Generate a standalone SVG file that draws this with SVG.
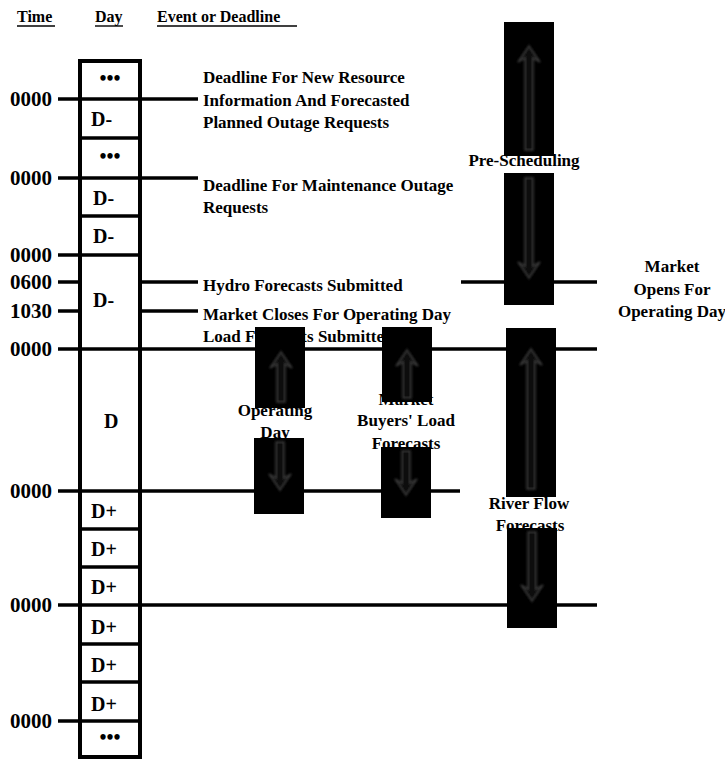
<svg xmlns="http://www.w3.org/2000/svg" width="725" height="760" viewBox="0 0 725 760">
<style>
  text { font-family: "Liberation Serif", "Times New Roman", serif; font-weight: bold; fill: #000; }
  .hdr { font-size: 16px; }
  .time { font-size: 21px; }
  .day { font-size: 20px; }
  .ev { font-size: 17px; }
  .mid { text-anchor: middle; }
  .ln { stroke: #000; stroke-width: 3.5; fill: none; }
  .ul { stroke: #000; stroke-width: 1.4; }
  .box { fill: none; stroke: #000; stroke-width: 4; }
  .blk { fill: #000; }
  .arr { fill: #0e0e0e; stroke: #383838; stroke-width: 1.6; filter: url(#glow); }
</style>
<defs>
  <filter id="glow" x="-50%" y="-20%" width="200%" height="140%">
    <feGaussianBlur stdDeviation="0.9"/>
  </filter>
</defs>
<rect width="725" height="760" fill="#fff"/>

<g id="headers">
  <text class="hdr" x="17" y="22">Time</text>
  <line class="ul" x1="17" y1="26" x2="55" y2="26"/>
  <text class="hdr" x="95" y="22">Day</text>
  <line class="ul" x1="95" y1="26" x2="123" y2="26"/>
  <text class="hdr" x="157" y="22">Event or Deadline</text>
  <line class="ul" x1="157" y1="26" x2="297" y2="26"/>
</g>

<g id="connectors">
  <line class="ln" x1="58" y1="99" x2="198" y2="99"/>
  <line class="ln" x1="80" y1="138" x2="140" y2="138"/>
  <line class="ln" x1="58" y1="178" x2="198" y2="178"/>
  <line class="ln" x1="80" y1="216" x2="140" y2="216"/>
  <line class="ln" x1="58" y1="255" x2="140" y2="255"/>
  <line class="ln" x1="58" y1="282" x2="80" y2="282"/>
  <line class="ln" x1="140" y1="282" x2="198" y2="282"/>
  <line class="ln" x1="461" y1="282" x2="597" y2="282"/>
  <line class="ln" x1="58" y1="311" x2="80" y2="311"/>
  <line class="ln" x1="140" y1="311" x2="198" y2="311"/>
  <line class="ln" x1="58" y1="349" x2="597" y2="349"/>
  <line class="ln" x1="58" y1="491" x2="460" y2="491"/>
  <line class="ln" x1="80" y1="529" x2="140" y2="529"/>
  <line class="ln" x1="80" y1="567" x2="140" y2="567"/>
  <line class="ln" x1="58" y1="605" x2="597" y2="605"/>
  <line class="ln" x1="80" y1="644" x2="140" y2="644"/>
  <line class="ln" x1="80" y1="682" x2="140" y2="682"/>
  <line class="ln" x1="58" y1="721" x2="140" y2="721"/>
</g>

<g id="time-labels">
  <text class="time" x="10" y="106">0000</text>
  <text class="time" x="10" y="185">0000</text>
  <text class="time" x="10" y="262">0000</text>
  <text class="time" x="10" y="289">0600</text>
  <text class="time" x="10" y="318">1030</text>
  <text class="time" x="10" y="356">0000</text>
  <text class="time" x="10" y="498">0000</text>
  <text class="time" x="10" y="612">0000</text>
  <text class="time" x="10" y="728">0000</text>
</g>

<g id="day-column">
  <rect class="box" x="80" y="61" width="60" height="696"/>
  <text class="day mid" x="110" y="85">•••</text>
  <text class="day" x="91" y="126">D-</text>
  <text class="day mid" x="110" y="163">•••</text>
  <text class="day" x="93" y="205">D-</text>
  <text class="day" x="93" y="243">D-</text>
  <text class="day" x="93" y="307">D-</text>
  <text class="day" x="104" y="428">D</text>
  <text class="day" x="91" y="518">D+</text>
  <text class="day" x="91" y="556">D+</text>
  <text class="day" x="91" y="594">D+</text>
  <text class="day" x="91" y="634">D+</text>
  <text class="day" x="91" y="672">D+</text>
  <text class="day" x="91" y="711">D+</text>
  <text class="day mid" x="110" y="744">•••</text>
</g>

<g id="event-new-resource">
  <text class="ev" x="203" y="83">Deadline For New Resource</text>
  <text class="ev" x="203" y="106">Information And Forecasted</text>
  <text class="ev" x="203" y="128">Planned Outage Requests</text>
</g>
<g id="event-maintenance">
  <text class="ev" x="203" y="191">Deadline For Maintenance Outage</text>
  <text class="ev" x="203" y="213">Requests</text>
</g>
<g id="event-hydro">
  <text class="ev" x="203" y="291">Hydro Forecasts Submitted</text>
</g>
<g id="event-market-closes">
  <text class="ev" x="203" y="320">Market Closes For Operating Day</text>
  <text class="ev" x="203" y="342">Load Forecasts Submitted</text>
</g>
<g id="event-market-opens">
  <text class="ev mid" x="672" y="272">Market</text>
  <text class="ev mid" x="672" y="295">Opens For</text>
  <text class="ev mid" x="672" y="317">Operating Day</text>
</g>

<g id="pre-scheduling">
  <text class="ev mid" x="524" y="166">Pre-Scheduling</text>
  <rect class="blk" x="504" y="22" width="50" height="134"/>
  <path class="arr" d="M529,46 L540,62 L533,58 L533,150 L525,150 L525,58 L518,62 Z"/>
  <rect class="blk" x="504" y="173" width="50" height="132"/>
  <path class="arr" d="M529,278 L540,262 L533,266 L533,178 L525,178 L525,266 L518,262 Z"/>
</g>

<g id="operating-day">
  <text class="ev mid" x="275" y="416">Operating</text>
  <text class="ev mid" x="275" y="438">Day</text>
  <rect class="blk" x="255" y="327" width="50" height="81"/>
  <path class="arr" d="M281,352 L292,368 L285,364 L285,402 L277,402 L277,364 L270,368 Z"/>
  <rect class="blk" x="254" y="438" width="50" height="76"/>
  <path class="arr" d="M280,490 L291,474 L284,478 L284,442 L276,442 L276,478 L269,474 Z"/>
</g>

<g id="market-buyers">
  <text class="ev mid" x="406" y="405">Market</text>
  <text class="ev mid" x="406" y="426">Buyers' Load</text>
  <text class="ev mid" x="406" y="449">Forecasts</text>
  <rect class="blk" x="382" y="327" width="50" height="75"/>
  <path class="arr" d="M407,350 L418,366 L411,362 L411,398 L403,398 L403,362 L396,366 Z"/>
  <rect class="blk" x="381" y="447" width="50" height="71"/>
  <path class="arr" d="M406,495 L417,479 L410,483 L410,451 L402,451 L402,483 L395,479 Z"/>
</g>

<g id="river-flow">
  <text class="ev mid" x="529" y="509">River Flow</text>
  <text class="ev mid" x="530" y="531">Forecasts</text>
  <rect class="blk" x="506" y="328" width="50" height="169"/>
  <path class="arr" d="M531,349 L542,365 L535,361 L535,489 L527,489 L527,361 L520,365 Z"/>
  <rect class="blk" x="507" y="528" width="50" height="100"/>
  <path class="arr" d="M532,601 L543,585 L536,589 L536,532 L528,532 L528,589 L521,585 Z"/>
</g>
</svg>
